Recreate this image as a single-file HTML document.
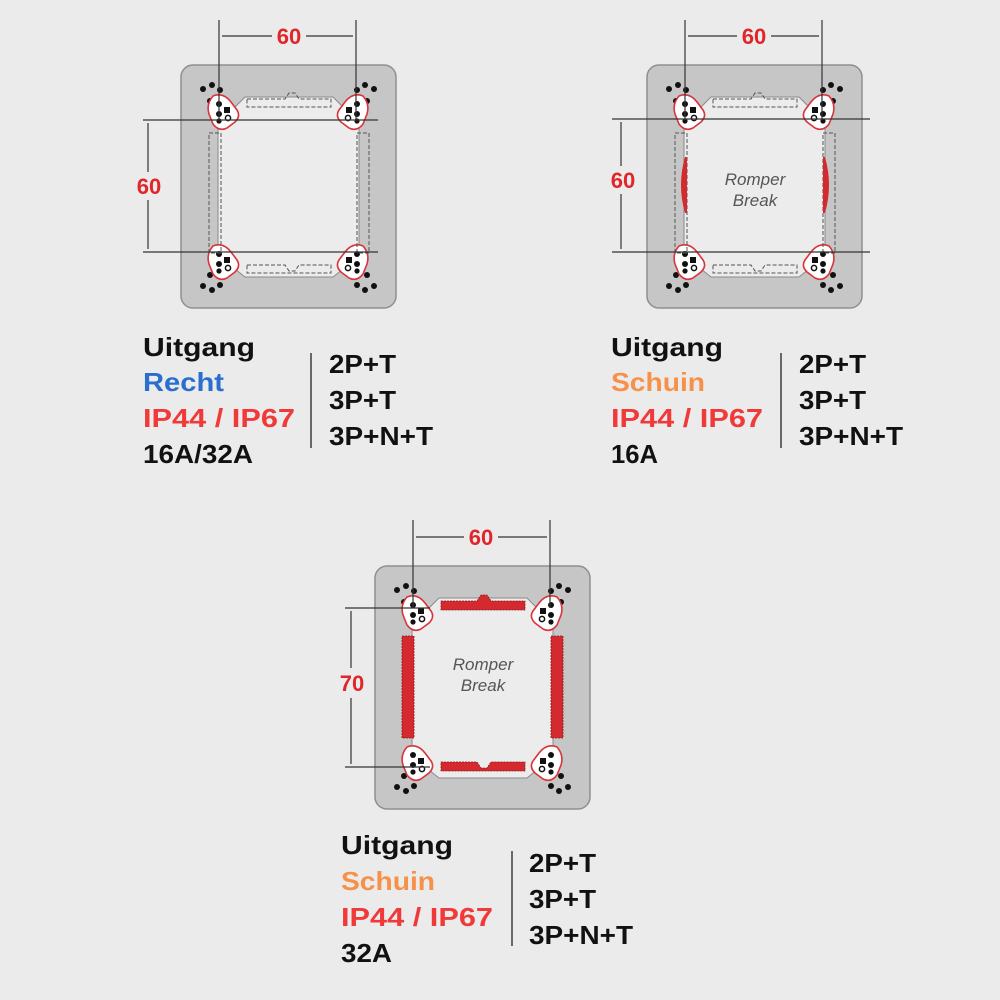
<!DOCTYPE html>
<html><head><style>
html,body{margin:0;padding:0;background:#ebebeb;}
svg{display:block;}
text{font-family:"Liberation Sans",Arial,sans-serif;}
.t{font-weight:bold;font-size:26px;}
.d{font-weight:bold;font-size:22px;fill:#e0262b;}
</style></head><body>
<svg width="1000" height="1000" viewBox="0 0 1000 1000" xmlns="http://www.w3.org/2000/svg">
<rect width="1000" height="1000" fill="#ebebeb"/>
<defs>
  <g id="pad">
    <path d="M-10,-16 Q0,-20 8,-10 L14,-2 Q18,4 12,10 L4,16 Q-4,20 -10,12 L-14,2 Q-17,-8 -10,-16Z" fill="#fff" stroke="#d8343a" stroke-width="1.6"/>
    <circle cx="-4" cy="-8" r="3" fill="#111"/>
    <circle cx="-4" cy="2" r="3" fill="#111"/>
    <rect x="1" y="-5" width="6" height="6" fill="#111"/>
    <circle cx="5" cy="6" r="2.6" fill="none" stroke="#111" stroke-width="1.5"/>
    <circle cx="-4" cy="9" r="2.6" fill="#111"/>
  </g>
  <g id="plate">
    <rect x="0" y="0" width="215" height="243" rx="12" fill="#c6c6c6" stroke="#8f8f8f" stroke-width="1.5"/>
    <path d="M64,32 L152,32 L162,42 L162,48 L178,58 L178,184 L162,196 L162,204 L152,212 L64,212 L54,204 L54,196 L37,184 L37,58 L54,48 L54,42Z" fill="#ececec" stroke="#8a8a8a" stroke-width="1"/>
    <circle cx="22" cy="24" r="3" fill="#111"/><circle cx="31" cy="20" r="3" fill="#111"/><circle cx="39" cy="25" r="3" fill="#111"/><circle cx="29" cy="36" r="3" fill="#111"/>
    <circle cx="193" cy="24" r="3" fill="#111"/><circle cx="184" cy="20" r="3" fill="#111"/><circle cx="176" cy="25" r="3" fill="#111"/><circle cx="186" cy="36" r="3" fill="#111"/>
    <circle cx="22" cy="221" r="3" fill="#111"/><circle cx="31" cy="225" r="3" fill="#111"/><circle cx="39" cy="220" r="3" fill="#111"/><circle cx="29" cy="210" r="3" fill="#111"/>
    <circle cx="193" cy="221" r="3" fill="#111"/><circle cx="184" cy="225" r="3" fill="#111"/><circle cx="176" cy="220" r="3" fill="#111"/><circle cx="186" cy="210" r="3" fill="#111"/>
    <use href="#pad" x="42" y="47"/>
    <use href="#pad" x="172" y="47" transform="translate(344,0) scale(-1,1)"/>
    <use href="#pad" x="42" y="197"/>
    <use href="#pad" x="172" y="197" transform="translate(344,0) scale(-1,1)"/>
  </g>
</defs>

<g transform="translate(181,65)">
  <use href="#plate"/>
  <g fill="none" stroke="#555" stroke-width="1" stroke-dasharray="4,2">
    <path d="M66,34 L104,34 L108,28 L114,28 L118,34 L150,34 L150,42 L66,42Z"/>
    <path d="M66,200 L104,200 L108,206 L114,206 L118,200 L150,200 L150,208 L66,208Z"/>
    <path d="M28,68 L40,68 L40,188 L28,188Z"/>
    <path d="M176,68 L188,68 L188,188 L176,188Z"/>
  </g>
</g>
<g transform="translate(647,65)">
  <use href="#plate"/>
  <g fill="none" stroke="#555" stroke-width="1" stroke-dasharray="4,2">
    <path d="M66,34 L104,34 L108,28 L114,28 L118,34 L150,34 L150,42 L66,42Z"/>
    <path d="M66,200 L104,200 L108,206 L114,206 L118,200 L150,200 L150,208 L66,208Z"/>
    <path d="M28,68 L40,68 L40,188 L28,188Z"/>
    <path d="M176,68 L188,68 L188,188 L176,188Z"/>
  </g>
  <path d="M38,92 Q30,120 38,148 L40,148 L40,92Z" fill="#d42a2f"/>
  <path d="M178,92 Q186,120 178,148 L176,148 L176,92Z" fill="#d42a2f"/>
  <text x="108" y="120" text-anchor="middle" font-size="17" font-style="italic" fill="#555">Romper</text>
  <text x="108" y="141" text-anchor="middle" font-size="17" font-style="italic" fill="#555">Break</text>
</g>
<g transform="translate(375,566)">
  <use href="#plate"/>
  <g fill="#d42a2f" stroke="#8a1a1a" stroke-width="0.8" stroke-dasharray="2,1">
    <path d="M66,35 L102,35 L106,29 L112,29 L116,35 L150,35 L150,44 L66,44Z"/>
    <path d="M66,196 L102,196 L106,202 L112,202 L116,196 L150,196 L150,205 L66,205Z"/>
    <rect x="27" y="70" width="12" height="102"/>
    <rect x="176" y="70" width="12" height="102"/>
  </g>
  <text x="108" y="104" text-anchor="middle" font-size="17" font-style="italic" fill="#555">Romper</text>
  <text x="108" y="125" text-anchor="middle" font-size="17" font-style="italic" fill="#555">Break</text>
</g>

<g stroke="#333" stroke-width="1.2" fill="none">
  <line x1="219" y1="20" x2="219" y2="120"/><line x1="356" y1="20" x2="356" y2="120"/>
  <line x1="222" y1="36" x2="272" y2="36"/><line x1="306" y1="36" x2="353" y2="36"/>
  <line x1="143" y1="120" x2="378" y2="120"/><line x1="143" y1="252" x2="378" y2="252"/>
  <line x1="148" y1="123" x2="148" y2="172"/><line x1="148" y1="200" x2="148" y2="249"/>

  <line x1="685" y1="20" x2="685" y2="120"/><line x1="822" y1="20" x2="822" y2="120"/>
  <line x1="688" y1="36" x2="737" y2="36"/><line x1="771" y1="36" x2="819" y2="36"/>
  <line x1="612" y1="119" x2="870" y2="119"/><line x1="612" y1="252" x2="870" y2="252"/>
  <line x1="621" y1="122" x2="621" y2="166"/><line x1="621" y1="194" x2="621" y2="249"/>

  <line x1="413" y1="520" x2="413" y2="608"/><line x1="550" y1="520" x2="550" y2="608"/>
  <line x1="416" y1="537" x2="464" y2="537"/><line x1="498" y1="537" x2="547" y2="537"/>
  <line x1="345" y1="608" x2="430" y2="608"/><line x1="345" y1="767" x2="430" y2="767"/>
  <line x1="351" y1="611" x2="351" y2="668"/><line x1="351" y1="698" x2="351" y2="764"/>
</g>
<text class="d" x="289" y="44" text-anchor="middle">60</text>
<text class="d" x="149" y="194" text-anchor="middle">60</text>
<text class="d" x="754" y="44" text-anchor="middle">60</text>
<text class="d" x="623" y="188" text-anchor="middle">60</text>
<text class="d" x="481" y="545" text-anchor="middle">60</text>
<text class="d" x="352" y="691" text-anchor="middle">70</text>

<g lengthAdjust="spacingAndGlyphs">
<text class="t" x="143" y="356" fill="#111" textLength="112" lengthAdjust="spacingAndGlyphs">Uitgang</text>
<text class="t" x="143" y="391" fill="#2a6fce" textLength="81" lengthAdjust="spacingAndGlyphs">Recht</text>
<text class="t" x="143" y="427" fill="#f03a3a" textLength="152" lengthAdjust="spacingAndGlyphs">IP44 / IP67</text>
<text class="t" x="143" y="463" fill="#111" textLength="110" lengthAdjust="spacingAndGlyphs">16A/32A</text>
<line x1="311" y1="353" x2="311" y2="448" stroke="#111" stroke-width="1.2"/>
<text class="t" x="329" y="373" fill="#111" textLength="67" lengthAdjust="spacingAndGlyphs">2P+T</text>
<text class="t" x="329" y="409" fill="#111" textLength="67" lengthAdjust="spacingAndGlyphs">3P+T</text>
<text class="t" x="329" y="445" fill="#111" textLength="104" lengthAdjust="spacingAndGlyphs">3P+N+T</text>

<text class="t" x="611" y="356" fill="#111" textLength="112" lengthAdjust="spacingAndGlyphs">Uitgang</text>
<text class="t" x="611" y="391" fill="#f7914a" textLength="94" lengthAdjust="spacingAndGlyphs">Schuin</text>
<text class="t" x="611" y="427" fill="#f03a3a" textLength="152" lengthAdjust="spacingAndGlyphs">IP44 / IP67</text>
<text class="t" x="611" y="463" fill="#111" textLength="47" lengthAdjust="spacingAndGlyphs">16A</text>
<line x1="781" y1="353" x2="781" y2="448" stroke="#111" stroke-width="1.2"/>
<text class="t" x="799" y="373" fill="#111" textLength="67" lengthAdjust="spacingAndGlyphs">2P+T</text>
<text class="t" x="799" y="409" fill="#111" textLength="67" lengthAdjust="spacingAndGlyphs">3P+T</text>
<text class="t" x="799" y="445" fill="#111" textLength="104" lengthAdjust="spacingAndGlyphs">3P+N+T</text>

<text class="t" x="341" y="854" fill="#111" textLength="112" lengthAdjust="spacingAndGlyphs">Uitgang</text>
<text class="t" x="341" y="890" fill="#f7914a" textLength="94" lengthAdjust="spacingAndGlyphs">Schuin</text>
<text class="t" x="341" y="926" fill="#f03a3a" textLength="152" lengthAdjust="spacingAndGlyphs">IP44 / IP67</text>
<text class="t" x="341" y="962" fill="#111" textLength="51" lengthAdjust="spacingAndGlyphs">32A</text>
<line x1="512" y1="851" x2="512" y2="946" stroke="#111" stroke-width="1.2"/>
<text class="t" x="529" y="872" fill="#111" textLength="67" lengthAdjust="spacingAndGlyphs">2P+T</text>
<text class="t" x="529" y="908" fill="#111" textLength="67" lengthAdjust="spacingAndGlyphs">3P+T</text>
<text class="t" x="529" y="944" fill="#111" textLength="104" lengthAdjust="spacingAndGlyphs">3P+N+T</text>
</g>
</svg>
</body></html>
